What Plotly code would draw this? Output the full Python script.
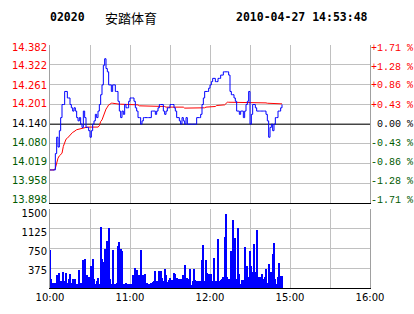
import plotly.graph_objects as go

# ---------------- data ----------------
stock_code = "02020"
stock_name = "安踏体育"
timestamp = "2010-04-27 14:53:48"
prev_close = 14.140

price_ticks = [13.898, 13.958, 14.019, 14.080, 14.140, 14.201, 14.261, 14.322, 14.382]
pct_ticks = [-1.71, -1.28, -0.86, -0.43, 0.00, 0.43, 0.86, 1.28, 1.71]
pct_labels = ["-1.71 %", "-1.28 %", "-0.86 %", "-0.43 %", " 0.00 %",
              "+0.43 %", "+0.86 %", "+1.28 %", "+1.71 %"]
vol_ticks = [375, 750, 1125, 1500]
time_ticks = [0, 30, 60, 90, 120, 150, 180, 210, 240]
time_labels = ["10:00", "", "11:00", "", "12:00", "", "15:00", "", "16:00"]

price = [
    14.00, 14.00, 14.00, 14.00, 14.05, 14.10, 14.07, 14.12, 14.16, 14.20,
    14.20, 14.24, 14.24, 14.22, 14.22, 14.20, 14.19, 14.18, 14.19, 14.18,
    14.16, 14.15, 14.16, 14.14, 14.13, 14.18, 14.16, 14.13, 14.13, 14.12,
    14.10, 14.12, 14.14, 14.15, 14.17, 14.16, 14.18, 14.20, 14.23, 14.26,
    14.32, 14.34, 14.31, 14.30, 14.26, 14.26, 14.24, 14.26, 14.26, 14.24,
    14.24, 14.21, 14.18, 14.16, 14.18, 14.17, 14.20, 14.19, 14.19, 14.21,
    14.22, 14.22, 14.22, 14.21, 14.19, 14.18, 14.16, 14.16, 14.14, 14.15,
    14.16, 14.16, 14.16, 14.16, 14.16, 14.16, 14.18, 14.18, 14.18, 14.17,
    14.18, 14.19, 14.20, 14.20, 14.20, 14.18, 14.17, 14.18, 14.19, 14.19,
    14.20, 14.20, 14.20, 14.19, 14.18, 14.16, 14.16, 14.15, 14.14, 14.16,
    14.15, 14.14, 14.16, 14.14, 14.14, 14.14, 14.14, 14.14, 14.14, 14.14,
    14.16, 14.16, 14.16, 14.17, 14.20, 14.22, 14.24, 14.24, 14.24, 14.25,
    14.26, 14.27, 14.28, 14.28, 14.27, 14.27, 14.28, 14.28, 14.29, 14.29,
    14.30, 14.30, 14.30, 14.30, 14.29, 14.24, 14.23, 14.23, 14.22, 14.21,
    14.18, 14.18, 14.17, 14.18, 14.18, 14.16, 14.18, 14.20, 14.21, 14.24,
    14.14, 14.17, 14.20, 14.20, 14.19, 14.18, 14.18, 14.18, 14.18, 14.18,
    14.18, 14.18, 14.17, 14.15, 14.10, 14.13, 14.14, 14.12, 14.14, 14.16,
    14.16, 14.18, 14.18, 14.19, 14.20,
]

avg_price = [
    14.000, 14.000, 14.000, 14.000, 14.005, 14.021, 14.036, 14.043, 14.046, 14.051,
    14.072, 14.087, 14.094, 14.097, 14.102, 14.107, 14.112, 14.115, 14.117, 14.121,
    14.123, 14.124, 14.125, 14.126, 14.128, 14.130, 14.131, 14.131, 14.131, 14.131,
    14.131, 14.131, 14.131, 14.131, 14.131, 14.131, 14.131, 14.135, 14.148, 14.153,
    14.163, 14.179, 14.186, 14.192, 14.199, 14.201, 14.204, 14.204, 14.203, 14.202,
    14.201, 14.201, 14.201, 14.201, 14.201, 14.201, 14.201, 14.199, 14.199, 14.199,
    14.199, 14.199, 14.199, 14.199, 14.199, 14.199, 14.199, 14.196, 14.196, 14.196,
    14.196, 14.196, 14.196, 14.196, 14.196, 14.196, 14.196, 14.196, 14.196, 14.196,
    14.196, 14.194, 14.194, 14.194, 14.194, 14.194, 14.194, 14.192, 14.192, 14.192,
    14.192, 14.192, 14.192, 14.192, 14.192, 14.192, 14.192, 14.192, 14.192, 14.192,
    14.192, 14.189, 14.189, 14.189, 14.189, 14.189, 14.189, 14.189, 14.189, 14.189,
    14.189, 14.189, 14.189, 14.189, 14.190, 14.190, 14.190, 14.192, 14.192, 14.192,
    14.194, 14.194, 14.194, 14.194, 14.194, 14.197, 14.197, 14.197, 14.197, 14.197,
    14.199, 14.199, 14.203, 14.207, 14.207, 14.207, 14.207, 14.207, 14.207, 14.207,
    14.207, 14.207, 14.207, 14.207, 14.207, 14.207, 14.207, 14.207, 14.207, 14.207,
    14.207, 14.207, 14.207, 14.207, 14.207, 14.207, 14.207, 14.207, 14.205, 14.205,
    14.205, 14.205, 14.205, 14.204, 14.204, 14.204, 14.204, 14.204, 14.203, 14.203,
    14.203, 14.203, 14.202, 14.202, 14.202,
]

volume = [
    720, 160, 83, 64, 83, 235, 172, 273, 127, 64,
    300, 127, 273, 83, 160, 254, 83, 160, 160, 160,
    64, 64, 337, 95, 64, 528, 540, 64, 235, 210,
    64, 413, 540, 160, 64, 127, 190, 64, 1157, 540,
    490, 744, 350, 890, 1145, 160, 64, 719, 64, 64,
    95, 795, 870, 744, 700, 64, 64, 83, 64, 64,
    64, 64, 235, 64, 382, 330, 64, 235, 719, 64,
    235, 254, 64, 95, 64, 64, 95, 108, 127, 318,
    127, 64, 318, 316, 190, 127, 348, 234, 108, 145,
    190, 145, 145, 285, 254, 190, 45, 158, 158, 170,
    234, 424, 145, 190, 170, 348, 45, 127, 348, 145,
    127, 127, 127, 127, 525, 823, 127, 519, 272, 254,
    127, 254, 127, 570, 127, 127, 930, 127, 145, 158,
    210, 962, 1412, 210, 158, 108, 696, 1298, 127, 950,
    158, 1140, 254, 64, 145, 145, 779, 300, 412, 210,
    696, 412, 300, 842, 300, 1095, 45, 210, 210, 254,
    170, 210, 361, 83, 443, 45, 300, 633, 855, 170,
    64, 210, 462, 221, 221,
]

minute_idx = list(range(len(price)))

# ---------------- styling ----------------
RED = "#FF0000"
GREEN = "#005A00"
GRID = "#C0C0C0"
FRAME = "#A0A0A0"

W, H = 414, 314
M_L, M_R, M_T, M_B = 50, 44, 45, 26
PLOT_H = H - M_T - M_B


def frac(py):
    """pixel row -> paper fraction"""
    return (H - M_B - py) / PLOT_H


def price_label(v):
    if abs(v - prev_close) < 1e-6:
        col = "#000000"
    elif v > prev_close:
        col = RED
    else:
        col = GREEN
    return f'<span style="color:{col}">{v:.3f}</span>'


def pct_label(v, t):
    if abs(v) < 1e-9:
        col = "#000000"
    elif v > 0:
        col = RED
    else:
        col = GREEN
    return f'<span style="color:{col}">{t}</span>'


fig = go.Figure()

# label-only subplots (drawn first, transparent)
fig.add_trace(go.Scatter(x=[None], y=[None], xaxis="x3", yaxis="y3", showlegend=False))
fig.add_trace(go.Scatter(x=[None], y=[None], xaxis="x4", yaxis="y4", showlegend=False))
fig.add_trace(go.Scatter(x=[None], y=[None], xaxis="x5", yaxis="y5", showlegend=False))

fig.add_trace(go.Scatter(x=[time_ticks[0], time_ticks[-1]], y=[prev_close, prev_close],
                         mode="lines", line=dict(color="black", width=1),
                         xaxis="x", yaxis="y", hoverinfo="skip"))
fig.add_trace(go.Scatter(x=minute_idx, y=avg_price, mode="lines",
                         line=dict(color=RED, width=1), xaxis="x", yaxis="y"))
fig.add_trace(go.Scatter(x=minute_idx, y=price, mode="lines",
                         line=dict(color="#0000FF", width=1, shape="hv"),
                         xaxis="x", yaxis="y"))
fig.add_trace(go.Bar(x=minute_idx, y=volume, width=0.75,
                     marker=dict(color="#0000FF", line=dict(width=0)),
                     xaxis="x2", yaxis="y2"))

tick_font = dict(family="DejaVu Sans", size=10, color="black")

price_dom = [frac(203.3), 1.0]
vol_dom = [0.0, frac(209.3)]
label_dom = [frac(199.3), frac(47.0)]
vol_label_dom = [0.0, frac(213.0)]

hidden_x = dict(domain=[0, 1], range=[time_ticks[0], time_ticks[-1]], visible=False,
                showgrid=False, zeroline=False, automargin=False)

fig.update_layout(
    width=W, height=H,
    margin=dict(l=M_L, r=M_R, t=M_T, b=M_B, autoexpand=False),
    paper_bgcolor="white", plot_bgcolor="rgba(0,0,0,0)",
    showlegend=False, bargap=0,
    xaxis=dict(domain=[0, 1], anchor="y", range=[time_ticks[0], time_ticks[-1]],
               tickmode="array", tickvals=time_ticks, showticklabels=False,
               showgrid=True, gridcolor=GRID, gridwidth=1, zeroline=False,
               showline=True, linecolor="black", linewidth=1, ticks="",
               automargin=False),
    yaxis=dict(domain=price_dom, anchor="x", range=[price_ticks[0], price_ticks[-1]],
               tickmode="array", tickvals=price_ticks, showticklabels=False,
               showgrid=True, gridcolor=GRID, gridwidth=1,
               zeroline=False, showline=True, linecolor=FRAME, mirror=True,
               ticks="", automargin=False),
    xaxis2=dict(domain=[0, 1], anchor="y2", range=[time_ticks[0], time_ticks[-1]],
                tickmode="array", tickvals=time_ticks, ticktext=time_labels,
                tickfont=tick_font, showgrid=True, gridcolor=GRID, gridwidth=1,
                zeroline=False, showline=True, linecolor="black", linewidth=1,
                ticks="", automargin=False),
    yaxis2=dict(domain=vol_dom, anchor="x2", range=[0, vol_ticks[-1]],
                tickmode="array", tickvals=vol_ticks, showticklabels=False,
                showgrid=True, gridcolor=GRID, gridwidth=1, zeroline=False,
                showline=True, linecolor=FRAME, mirror=True, ticks="",
                automargin=False),
    xaxis3=dict(anchor="y3", **hidden_x),
    xaxis4=dict(anchor="y4", **hidden_x),
    xaxis5=dict(anchor="y5", **hidden_x),
    # right percent labels
    yaxis3=dict(domain=label_dom, anchor="x3", side="right",
                range=[pct_ticks[0], pct_ticks[-1]],
                tickmode="array", tickvals=pct_ticks,
                ticktext=[pct_label(v, t) for v, t in zip(pct_ticks, pct_labels)],
                tickfont=dict(family="Liberation Mono", size=10, color="black"),
                ticklabelstandoff=0,
                showgrid=False, zeroline=False, showline=False, ticks="",
                automargin=False),
    # left price labels
    yaxis4=dict(domain=label_dom, anchor="x4", side="left",
                range=[price_ticks[0], price_ticks[-1]],
                tickmode="array", tickvals=price_ticks,
                ticktext=[price_label(v) for v in price_ticks],
                tickfont=tick_font, ticklabelstandoff=2,
                showgrid=False, zeroline=False, showline=False, ticks="",
                automargin=False),
    # volume labels
    yaxis5=dict(domain=vol_label_dom, anchor="x5", side="left",
                range=[20, vol_ticks[-1]],
                tickmode="array", tickvals=vol_ticks, tickfont=tick_font,
                ticklabelstandoff=2,
                showgrid=False, zeroline=False, showline=False, ticks="",
                automargin=False),
)

title_font = dict(family="DejaVu Sans Mono", size=11.5, color="black")
ty = frac(17)
fig.add_annotation(text=f"<b>{stock_code}</b>", xref="paper", yref="paper",
                   x=0, y=ty, xanchor="left", yanchor="middle", xshift=-2,
                   showarrow=False, font=title_font)
fig.add_annotation(text=stock_name, xref="paper", yref="paper",
                   x=(105 - M_L) / (W - M_L - M_R), y=ty, xanchor="left",
                   yanchor="middle", xshift=-2, showarrow=False,
                   font=dict(family="Noto Sans CJK SC", size=13, color="black"))
fig.add_annotation(text=f"<b>{timestamp}</b>", xref="paper", yref="paper",
                   x=(237 - M_L) / (W - M_L - M_R), y=ty, xanchor="left",
                   yanchor="middle", xshift=-3, showarrow=False, font=title_font)

fig.write_html("out.html")
